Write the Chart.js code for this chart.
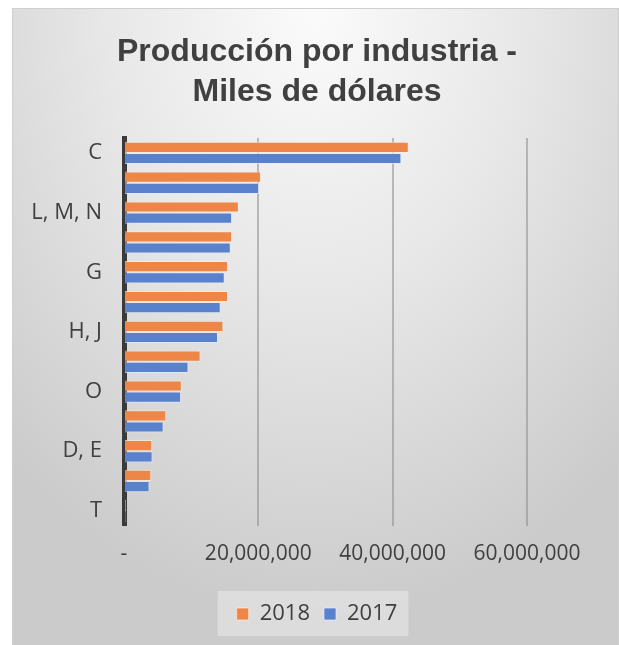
<!DOCTYPE html>
<html>
<head>
<meta charset="utf-8">
<script src="https://cdn.jsdelivr.net/npm/chart.js@4.4.1/dist/chart.umd.min.js"></script>
<style>
    html, body { margin: 0; padding: 0; background: #ffffff; }
    #wrap { position: relative; width: 619px; height: 645px; }
    #frame {
        position: absolute; left: 12px; top: 8px; width: 605px; height: 640px;
        border: 1px solid #cfcfcf;
        background: radial-gradient(ellipse 75% 95% at 50% 0%, #fbfbfb 0%, #e8e8e8 45%, #cbcbcb 100%);
    }
    #chart { position: absolute; left: 0; top: 0; }
</style>
</head>
<body>
<div id="wrap">
    <div id="frame"></div>
    <canvas id="chart" width="619" height="645"></canvas>
</div>
<script>
// categories (only every other one is labelled in the original)
const categories = ["C", "F", "L, M, N", "A", "G", "B", "H, J", "K", "O", "P", "D, E", "Q", "T"];
const values2018 = [42400000, 20400000, 17100000, 16100000, 15500000, 15500000, 14800000, 11400000, 8600000, 6300000, 4200000, 4060000, 300000];
const values2017 = [41300000, 20100000, 16100000, 15900000, 15000000, 14400000, 14000000, 9600000, 8500000, 5900000, 4250000, 3800000, 250000];
const xTicks = [0, 20000000, 40000000, 60000000];

const textColor = "#404040";

function fmt(v) {
    if (v === 0) return "-";
    return String(v).replace(/\B(?=(\d{3})+(?!\d))/g, ",");
}

// title and legend are centred on the whole frame, not on the plot
const recentre = {
    id: "recentre",
    afterLayout(chart) {
        chart.titleBlock.left = 0;
        chart.titleBlock.right = 634;
        chart.legend.left = 0;
        chart.legend.right = 634;
    }
};

// light box behind the legend
const legendBg = {
    id: "legendBg",
    beforeDraw(chart) {
        const boxes = chart.legend && chart.legend.legendHitBoxes;
        if (!boxes || !boxes.length) return;
        const first = boxes[0];
        const last = boxes[boxes.length - 1];
        const ctx = chart.ctx;
        ctx.save();
        ctx.fillStyle = "rgba(235,235,235,0.55)";
        const cy = first.top + first.height / 2;
        ctx.fillRect(first.left - 19, cy - 23, (last.left + last.width) - first.left + 30, 45);
        ctx.restore();
    }
};

const ctx = document.getElementById("chart").getContext("2d");
const chart = new Chart(ctx, {
    type: "bar",
    data: {
        labels: categories,
        datasets: [
            { label: "2018", data: values2018, backgroundColor: "#ED8646", borderColor: "rgba(255,235,220,0.7)", borderWidth: 1 },
            { label: "2017", data: values2017, backgroundColor: "#5A82CC", borderColor: "rgba(225,235,255,0.7)", borderWidth: 1 }
        ]
    },
    options: {
        indexAxis: "y",
        responsive: false,
        animation: false,
        events: [],
        layout: { padding: { left: 0, right: 92, top: 0, bottom: 10 } },
        datasets: { bar: { categoryPercentage: 0.75, barPercentage: 1.0 } },
        scales: {
            x: {
                min: 0,
                max: 60000000,
                afterBuildTicks(scale) { scale.ticks = xTicks.map(v => ({ value: v })); },
                afterFit(scale) { scale.height += 6; },
                ticks: {
                    callback: v => fmt(v),
                    color: textColor,
                    font: { family: "'Open Sans'", size: 21 },
                    padding: 16,
                    maxRotation: 0
                },
                grid: {
                    color: c => c.index === 0 ? "rgba(0,0,0,0)" : "rgba(140,140,140,0.55)",
                    lineWidth: 2,
                    drawTicks: false
                },
                border: { display: false }
            },
            y: {
                afterFit(scale) { scale.width = 124; },
                ticks: {
                    autoSkip: false,
                    callback: function (v, i) { return i % 2 === 0 ? this.getLabelForValue(v) : ""; },
                    color: textColor,
                    font: { family: "'Open Sans'", size: 22 },
                    padding: 22
                },
                grid: { display: false, drawTicks: false },
                border: { display: true, color: "#3a3a3a", width: 5 }
            }
        },
        plugins: {
            title: {
                display: true,
                text: ["Producción por industria -", "Miles de dólares"],
                color: "#404040",
                font: { family: "'Liberation Sans'", size: 32, weight: "bold", lineHeight: 1.25 },
                padding: { top: 32, bottom: 26 }
            },
            legend: {
                position: "bottom",
                labels: {
                    boxWidth: 12,
                    boxHeight: 12,
                    padding: 14,
                    color: textColor,
                    font: { family: "'Open Sans'", size: 22 }
                }
            },
            tooltip: { enabled: false }
        }
    },
    plugins: [recentre, legendBg]
});
</script>
</body>
</html>
